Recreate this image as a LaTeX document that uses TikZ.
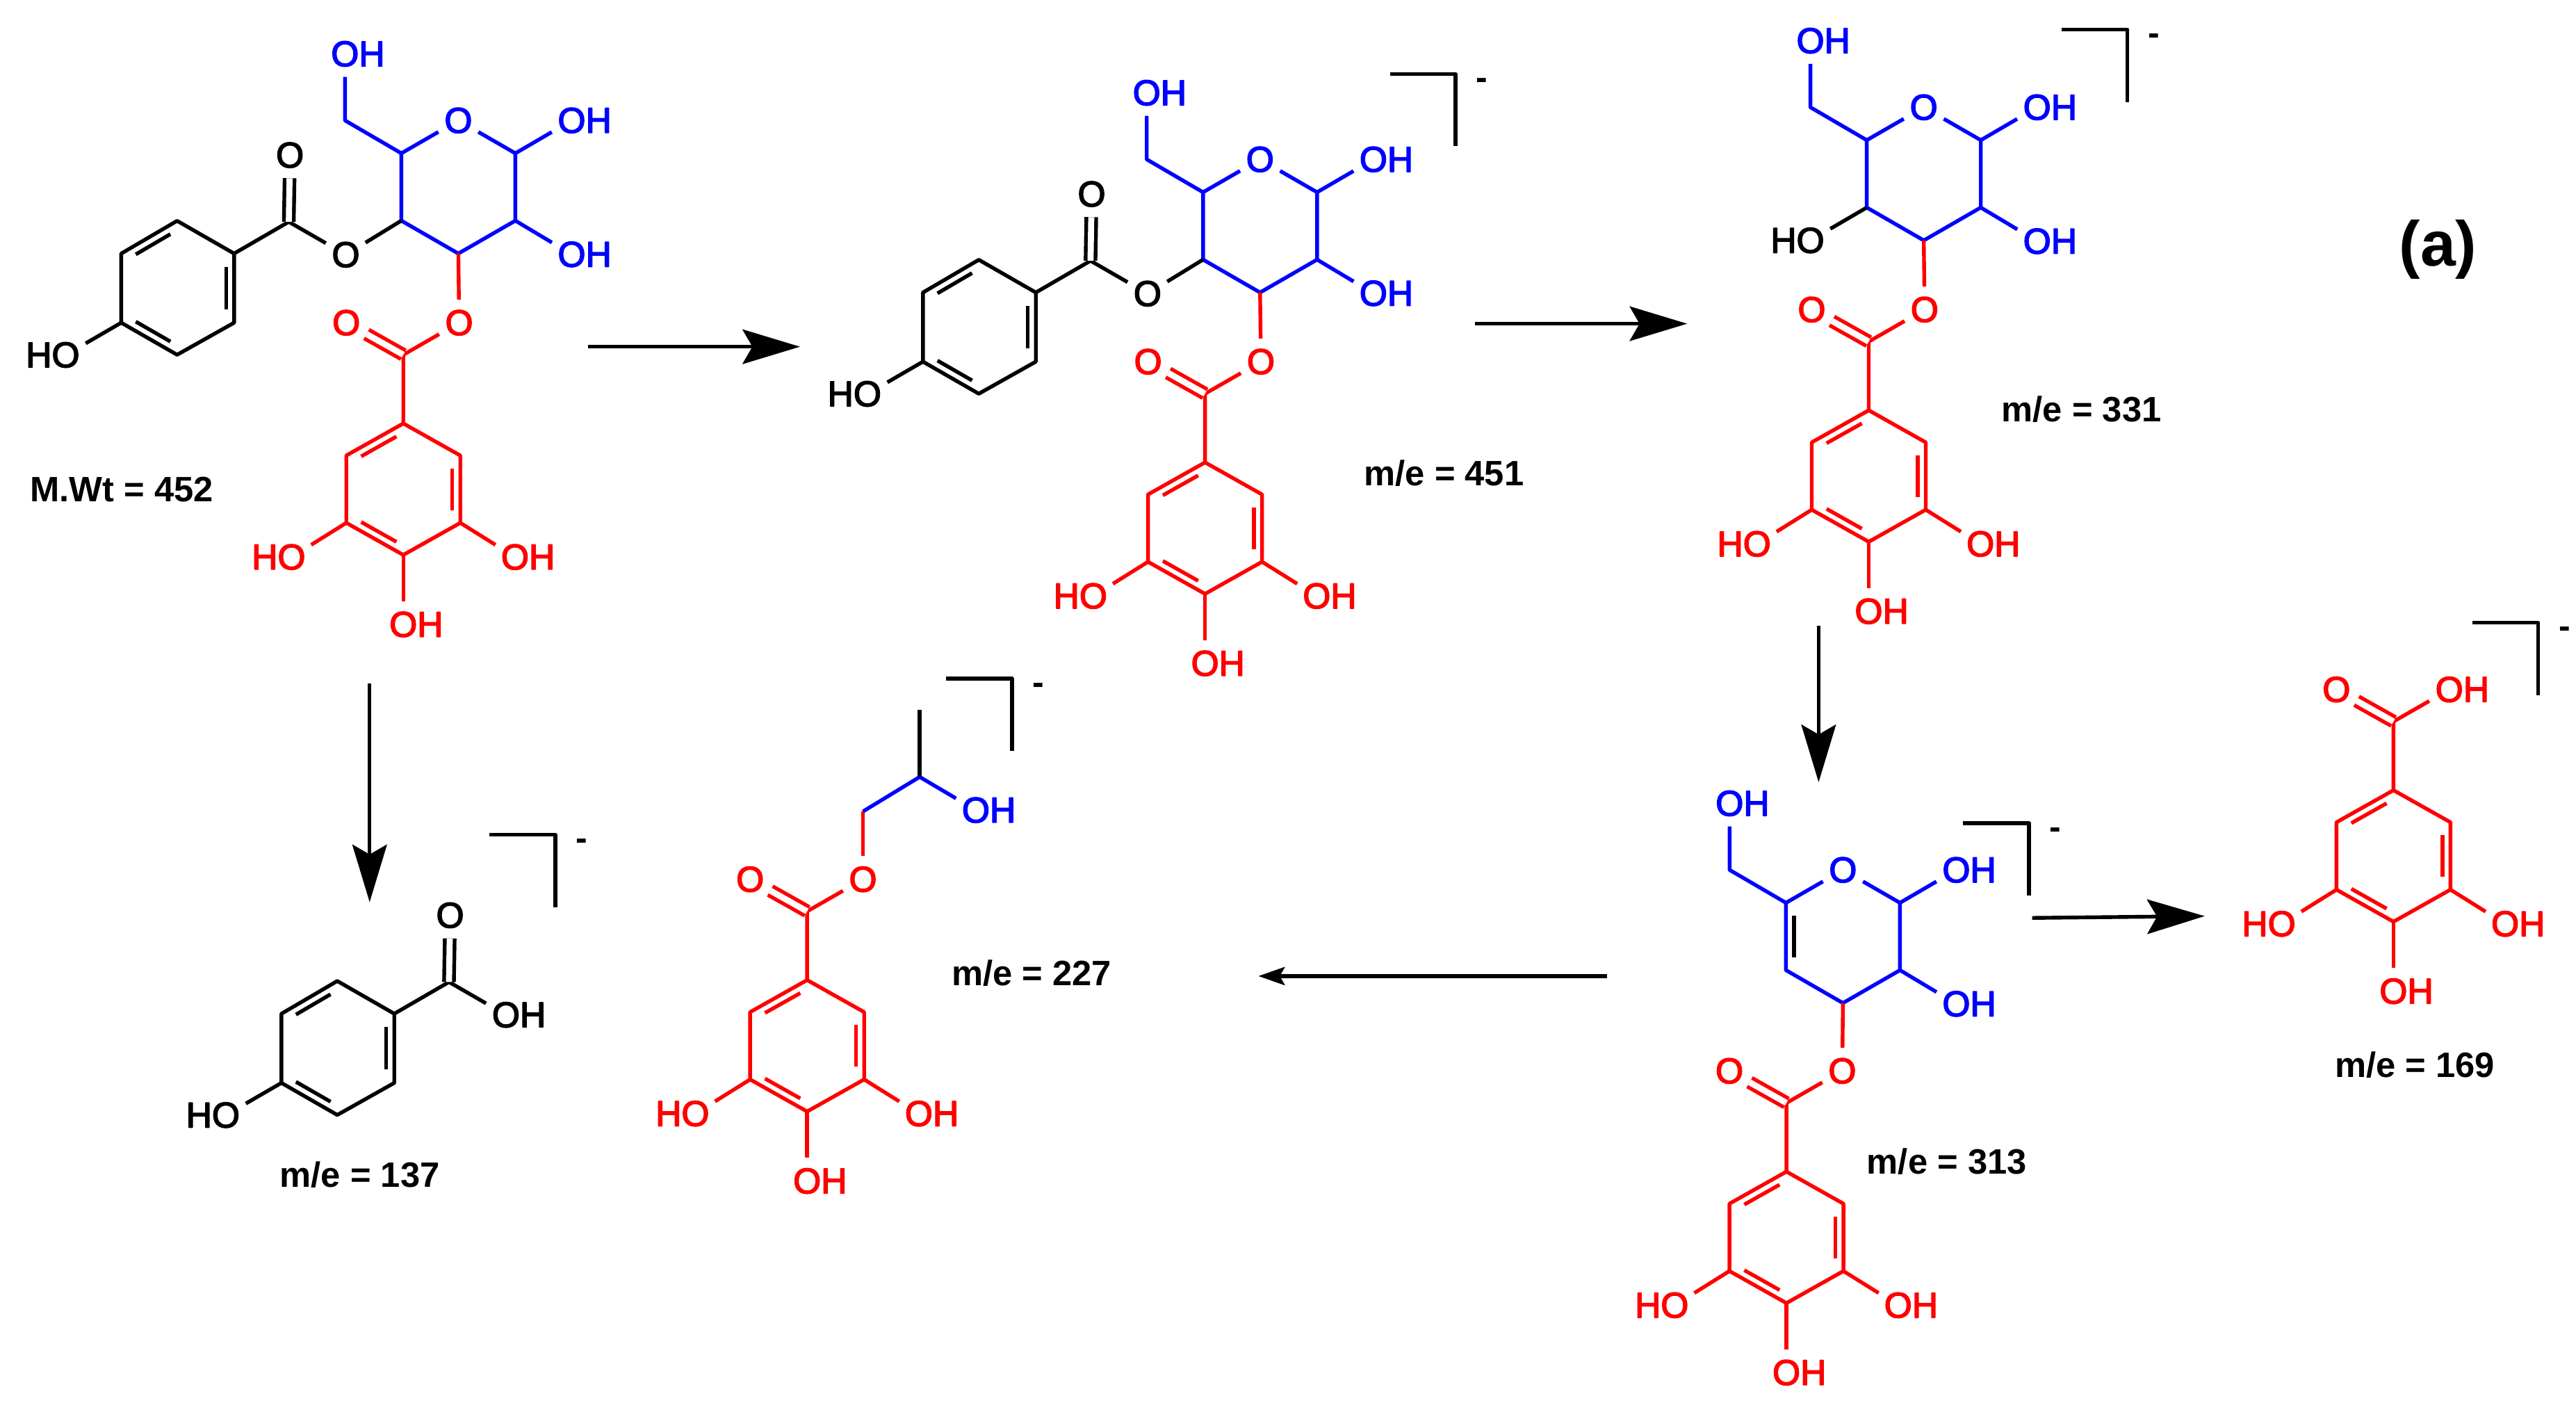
\documentclass[tikz,border=0pt]{standalone}
\usepackage{fontspec}
\setmainfont{Liberation Sans}
\newfontfamily\atomfont[FakeBold=3]{Liberation Sans}
\usetikzlibrary{arrows.meta,calc}
\tikzset{
    atom/.style={circle,inner sep=.3pt,font=\fontsize{6.2}{7}\atomfont},
    masslab/.style={inner sep=0pt,font=\fontsize{6.1}{7}\selectfont\bfseries},
    bigtip/.style={-{Stealth[length=.35cm,width=.21cm,inset=.06cm]}},
    smalltip/.style={-{Stealth[length=.16cm,width=.11cm,inset=.03cm]}},
    oxo/.style={double,double distance=1.05pt},
}
\newcommand{\dbl}[3]{\draw ($(#1)!.14!(#2)!.14!(#3)$) -- ($(#1)!.86!(#2)!.14!(#3)$);}
\newcommand{\brkt}[3]{
    \coordinate (#1a) at (#2-40,#3);
    \coordinate (#1b) at (#2,#3);
    \coordinate (#1c) at (#2,#3+44);
    \draw (#1a) -- (#1b) -- (#1c);
    \node[inner sep=0pt,font=\fontsize{6}{7}\selectfont\bfseries] (#1m) at (#2+16,#3+6) {-};
}
\newcommand{\sugar}[3]{
    \begin{scope}[shift={(#2,#3)},blue]
        \coordinate (#1-c3) at (0,0);
        \coordinate (#1-c2) at (34.7,-20);
        \coordinate (#1-c1) at (34.7,-61);
        \coordinate (#1-c5) at (-34.7,-61);
        \coordinate (#1-c4) at (-34.7,-20);
        \coordinate (#1-ch) at (-69,-81);
        \coordinate (#1-ctr) at (0,-40);
        \node[atom] (#1-o5) at (0,-81) {O};
        \node[atom] (#1-oa) at (-69,-121.5) {O\rlap{H}};
        \node[atom] (#1-ob) at (69,-81) {O\rlap{H}};
        \node[atom] (#1-oc) at (69,.5) {O\rlap{H}};
        \draw (#1-c1) -- (#1-c2) -- (#1-c3) -- (#1-c4) -- (#1-c5);
        \draw (#1-c1) -- (#1-o5) -- (#1-c5);
        \draw (#1-c5) -- (#1-ch) -- (#1-oa);
        \draw (#1-c1) -- (#1-ob);
        \draw (#1-c2) -- (#1-oc);
    \end{scope}
}
\newcommand{\gallate}[4]{
    \begin{scope}[shift={(#2,#3)},red]
        \coordinate (#1-r1) at (0,0);
        \coordinate (#1-r2) at (-34.7,19.5);
        \coordinate (#1-r3) at (34.7,19.5);
        \coordinate (#1-r4) at (-34.7,60.5);
        \coordinate (#1-r5) at (34.7,60.5);
        \coordinate (#1-r6) at (0,80);
        \coordinate (#1-ctr) at (0,40);
        \coordinate (#1-c) at (0,-41.8);
        \node[atom] (#1-ox) at (-34.7,-61.3) {O};
        \node[atom] (#1-oe) at (34,-61.3) {#4};
        \node[atom] (#1-ol) at (-68,81.3) {\llap{H}O};
        \node[atom] (#1-or) at (68,81.3) {O\rlap{H}};
        \node[atom] (#1-ob) at (0,122.3) {O\rlap{H}};
        \draw (#1-r1) -- (#1-r2) -- (#1-r4) -- (#1-r6) -- (#1-r5) -- (#1-r3) -- cycle;
        \dbl{#1-r1}{#1-r2}{#1-ctr}
        \dbl{#1-r3}{#1-r5}{#1-ctr}
        \dbl{#1-r4}{#1-r6}{#1-ctr}
        \draw (#1-r1) -- (#1-c) -- (#1-oe);
        \draw[oxo] (#1-c) -- (#1-ox);
        \draw (#1-r4) -- (#1-ol);
        \draw (#1-r5) -- (#1-or);
        \draw (#1-r6) -- (#1-ob);
    \end{scope}
}
\newcommand{\benzoyl}[4]{
    \begin{scope}[shift={(#2,#3)}]
        \coordinate (#1-c) at (0,0);
        \coordinate (#1-r1) at (-33.3,19.3);
        \coordinate (#1-r2) at (-68,-.6);
        \coordinate (#1-r3) at (-102,19.3);
        \coordinate (#1-r4) at (-102,61.4);
        \coordinate (#1-r5) at (-68,80.9);
        \coordinate (#1-r6) at (-33.3,61.4);
        \coordinate (#1-ctr) at (-68,40);
        \node[atom] (#1-ox) at (.7,-40.6) {O};
        \node[atom] (#1-oe) at (34.7,20) {#4};
        \node[atom] (#1-ol) at (-135.8,81) {\llap{H}O};
        \draw (#1-r1) -- (#1-r2) -- (#1-r3) -- (#1-r4) -- (#1-r5) -- (#1-r6) -- cycle;
        \dbl{#1-r1}{#1-r6}{#1-ctr}
        \dbl{#1-r2}{#1-r3}{#1-ctr}
        \dbl{#1-r4}{#1-r5}{#1-ctr}
        \draw (#1-r1) -- (#1-c) -- (#1-oe);
        \draw[oxo] (#1-c) -- (#1-ox);
        \draw (#1-r4) -- (#1-ol);
    \end{scope}
}
\begin{document}
\begin{tikzpicture}[x=.01cm,y=-.01cm,line width=.65pt,line join=round]
    \useasboundingbox (0,0) rectangle (1568,858);

    \sugar{a}{279}{154.3}
    \gallate{ag}{245.5}{257.7}{O}
    \benzoyl{ab}{175.8}{135}{O}
    \draw[red] (a-c3) -- (ag-oe);
    \draw (ab-oe) -- (a-c4);
    \node[masslab] (wta) at (74,298) {M.Wt = 452};

    \sugar{b}{767}{178}
    \gallate{bg}{733.5}{281.4}{O}
    \benzoyl{bb}{663.8}{158.7}{O}
    \draw[red] (b-c3) -- (bg-oe);
    \draw (bb-oe) -- (b-c4);
    \brkt{bk}{886}{45}
    \node[masslab] (wtb) at (879,288) {m/e = 451};

    \sugar{c}{1171}{146.3}
    \gallate{cg}{1137.5}{249.7}{O}
    \node[atom] (c-oh) at (1102,146.3) {\llap{H}O};
    \draw (c-c4) -- (c-oh);
    \draw[red] (c-c3) -- (cg-oe);
    \brkt{ck}{1295}{18}
    \node[masslab] (wtc) at (1267,249) {m/e = 331};

    \sugar{d}{1121.8}{610.4}
    \dbl{d-c4}{d-c5}{d-ctr}
    \gallate{dg}{1087.4}{713}{O}
    \draw[red] (d-c3) -- (dg-oe);
    \brkt{dk}{1235}{501}
    \node[masslab] (wtd) at (1185,707) {m/e = 313};

    \gallate{eg}{1456.9}{480.9}{O\rlap{H}}
    \brkt{ek}{1545}{379}
    \node[masslab] (wte) at (1470,648) {m/e = 169};

    \benzoyl{fb}{273.3}{597.6}{O\rlap{H}}
    \brkt{fk}{338}{508}
    \node[masslab] (wtf) at (219,715) {m/e = 137};

    \gallate{gg}{491.3}{596.4}{O}
    \coordinate (g-ch2) at (525.3,493.8);
    \coordinate (g-ch) at (559.8,472.8);
    \coordinate (g-me) at (559.8,432.2);
    \node[atom,blue] (g-oh) at (594,493) {O\rlap{H}};
    \draw[red] (gg-oe) -- (g-ch2);
    \draw[blue] (g-ch2) -- (g-ch) -- (g-oh);
    \draw (g-ch) -- (g-me);
    \brkt{gk}{616}{413}
    \node[masslab] (wtg) at (628,592) {m/e = 227};

    \node[inner sep=0pt,font=\fontsize{11}{13}\selectfont\bfseries] (panel) at (1484,152) {(a)};

    \coordinate (s1) at (358,211);
    \coordinate (e1) at (487,211);
    \coordinate (s2) at (898,197);
    \coordinate (e2) at (1027,197);
    \coordinate (s3) at (1107,381);
    \coordinate (e3) at (1107,476);
    \coordinate (s4) at (1237,558.6);
    \coordinate (e4) at (1342,557.5);
    \coordinate (s5) at (978,594);
    \coordinate (e5) at (766,594);
    \coordinate (s6) at (225,416);
    \coordinate (e6) at (225,549);
    \draw[bigtip] (s1) -- (e1);
    \draw[bigtip] (s2) -- (e2);
    \draw[bigtip] (s3) -- (e3);
    \draw[bigtip] (s4) -- (e4);
    \draw[smalltip] (s5) -- (e5);
    \draw[bigtip] (s6) -- (e6);
\end{tikzpicture}
\end{document}
